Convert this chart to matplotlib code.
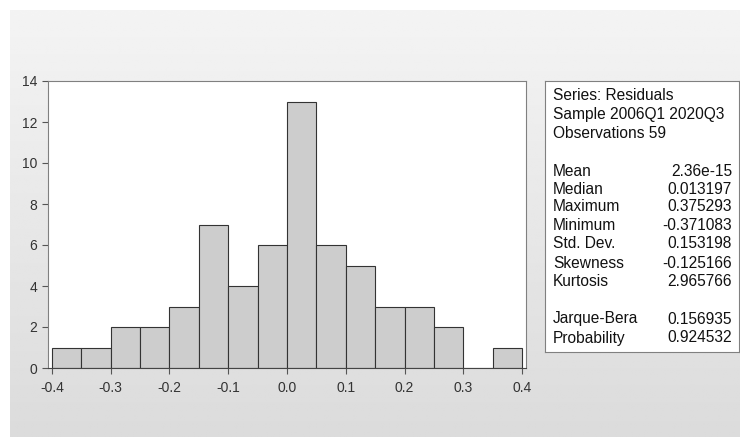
import matplotlib
matplotlib.use('Agg')
import matplotlib.pyplot as plt
import numpy as np

plt.rcParams['font.family'] = ['Liberation Sans', 'DejaVu Sans']

# histogram of residuals
bin_edges = [-0.40, -0.35, -0.30, -0.25, -0.20, -0.15, -0.10, -0.05, 0.00,
             0.05, 0.10, 0.15, 0.20, 0.25, 0.30, 0.35, 0.40]
counts = [1, 1, 2, 2, 3, 7, 4, 6, 13, 6, 5, 3, 3, 2, 0, 1]
xticks = [-0.4, -0.3, -0.2, -0.1, 0.0, 0.1, 0.2, 0.3, 0.4]
yticks = [0, 2, 4, 6, 8, 10, 12, 14]

header = ['Series: Residuals', 'Sample 2006Q1 2020Q3', 'Observations 59']
stat_names = ['Mean', 'Median', 'Maximum', 'Minimum', 'Std. Dev.', 'Skewness', 'Kurtosis']
stat_vals = ['2.36e-15', '0.013197', '0.375293', '-0.371083', '0.153198', '-0.125166', '2.965766']
test_names = ['Jarque-Bera', 'Probability']
test_vals = ['0.156935', '0.924532']

W, H = 740, 437
fig = plt.figure(figsize=(W / 100, H / 100), dpi=100)
fig.patch.set_facecolor('white')


def box(x0, y0, x1, y1):
    # pixel box (top-left origin) -> figure fraction rect
    return [x0 / W, 1 - y1 / H, (x1 - x0) / W, (y1 - y0) / H]


# gray gradient background
bg = fig.add_axes(box(10, 10, W, H), zorder=-5)
grad = np.linspace(0.955, 0.86, 200)[:, None] * np.ones((1, 50))
bg.imshow(grad, cmap='gray', vmin=0, vmax=1, aspect='auto', extent=[0, 1, 0, 1])
bg.set_axis_off()

ax = fig.add_axes(box(48, 81, 526, 368))
ax.bar(bin_edges[:-1], counts, width=np.diff(bin_edges), align='edge',
       color='#cdcdcd', edgecolor='#333333', linewidth=0.8)
ax.set_xlim(-0.4068, 0.4068)
ax.set_ylim(0, 14)
ax.set_xticks(xticks)
ax.set_xticklabels(['%.1f' % v for v in xticks])
ax.set_yticks(yticks)
ax.set_facecolor('white')
for s in ['left', 'top', 'right']:
    ax.spines[s].set_color('#808080')
ax.spines['bottom'].set_color('#444444')
ax.tick_params(direction='out', length=4.3, width=0.8, color='#555555',
               labelsize=10, labelcolor='#333333', pad=3.5)
ax.tick_params(axis='x', pad=5)

# statistics box
sb = fig.add_axes(box(545, 81, 739, 352))
sb.set_xticks([])
sb.set_yticks([])
sb.set_facecolor('white')
for s in sb.spines.values():
    s.set_color('#808080')

fs = 11.2
lx, rx = 553 / W, 732 / W
ys = [95, 115, 133]
for t, y in zip(header, ys):
    fig.text(lx, 1 - y / H, t, fontsize=fs, va='center', ha='left', color='#111111')
ys = [171, 189, 207, 226, 244, 263, 281]
for n, v, y in zip(stat_names, stat_vals, ys):
    fig.text(lx, 1 - y / H, n, fontsize=fs, va='center', ha='left', color='#111111')
    fig.text(rx, 1 - y / H, v, fontsize=fs, va='center', ha='right', color='#111111')
ys = [319, 338]
for n, v, y in zip(test_names, test_vals, ys):
    fig.text(lx, 1 - y / H, n, fontsize=fs, va='center', ha='left', color='#111111')
    fig.text(rx, 1 - y / H, v, fontsize=fs, va='center', ha='right', color='#111111')

fig.savefig('out.png', dpi=100)
